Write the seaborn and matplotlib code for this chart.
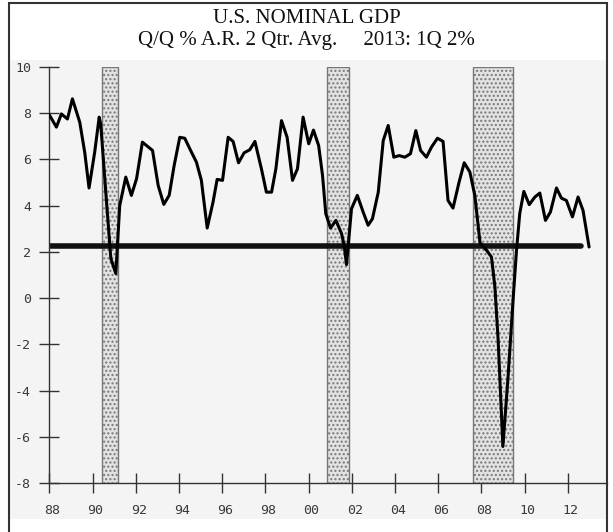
import matplotlib
matplotlib.use("Agg")
import matplotlib.pyplot as plt
import matplotlib.transforms as mtransforms
from matplotlib.patches import Rectangle
import pandas as pd
import seaborn as sns

# Data (2 qtr avg of Q/Q % annual rate)
years = [
    1988.00, 1988.33, 1988.56, 1988.84, 1989.07, 1989.41, 1989.64, 1989.84,
    1990.10, 1990.31, 1990.38, 1990.65, 1990.85, 1991.08, 1991.26, 1991.54,
    1991.80, 1992.04, 1992.31, 1992.78, 1993.04, 1993.30, 1993.55, 1993.78,
    1994.04, 1994.27, 1994.58, 1994.81, 1995.04, 1995.31, 1995.58, 1995.77,
    1996.02, 1996.28, 1996.51, 1996.76, 1997.02, 1997.28, 1997.52, 1997.82,
    1998.05, 1998.29, 1998.49, 1998.75, 1999.01, 1999.26, 1999.49, 1999.75,
    2000.01, 2000.23, 2000.47, 2000.65, 2000.80, 2001.02, 2001.27, 2001.53,
    2001.65, 2001.76, 2001.99, 2002.26, 2002.53, 2002.76, 2002.96, 2003.23,
    2003.46, 2003.69, 2003.95, 2004.20, 2004.46, 2004.72, 2004.97, 2005.19,
    2005.46, 2005.69, 2005.97, 2006.23, 2006.46, 2006.69, 2006.97, 2007.21,
    2007.47, 2007.70, 2007.94, 2008.24, 2008.47, 2008.63, 2008.78, 2008.93,
    2009.00, 2009.24, 2009.47, 2009.63, 2009.78, 2009.97, 2010.22, 2010.48,
    2010.71, 2010.97, 2011.20, 2011.48, 2011.71, 2011.94, 2012.22, 2012.48,
    2012.71, 2012.99,
]
gdp = [
    7.92, 7.39, 7.96, 7.74, 8.61, 7.60, 6.30, 4.76,
    6.30, 7.82, 7.53, 4.15, 1.71, 1.06, 4.00, 5.23,
    4.44, 5.16, 6.74, 6.38, 4.87, 4.05, 4.44, 5.73,
    6.95, 6.91, 6.31, 5.88, 5.09, 3.03, 4.15, 5.13,
    5.09, 6.95, 6.77, 5.85, 6.28, 6.41, 6.77, 5.59,
    4.58, 4.58, 5.59, 7.67, 6.95, 5.09, 5.59, 7.82,
    6.67, 7.26, 6.59, 5.30, 3.65, 3.03, 3.36, 2.79,
    2.28, 1.45, 3.86, 4.44, 3.72, 3.15, 3.43, 4.58,
    6.81, 7.46, 6.09, 6.16, 6.09, 6.24, 7.24, 6.38,
    6.09, 6.52, 6.91, 6.77, 4.22, 3.89, 5.01, 5.85,
    5.45, 4.44, 2.40, 2.07, 1.78, 0.49, -1.81, -4.96,
    -6.41, -3.39, -0.09, 2.07, 3.66, 4.61, 4.04, 4.37,
    4.54, 3.36, 3.72, 4.76, 4.32, 4.22, 3.51, 4.37,
    3.79, 2.21,
]

# Recessions (start, end)
rec_start = [1990.43, 2000.85, 2007.62]
rec_end = [1991.19, 2001.88, 2009.45]

# Long-run average line
avg_years = [1988.0, 2012.6]
avg_level = [2.25, 2.25]

xticks = list(range(1988, 2013, 2))
xlabels = ["88", "90", "92", "94", "96", "98", "00", "02", "04", "06", "08", "10", "12"]
yticks = [10, 8, 6, 4, 2, 0, -2, -4, -6, -8]

sns.set_style("white")
plt.rcParams["font.family"] = ["DejaVu Sans Mono"]

fig = plt.figure(figsize=(6.13, 5.32), dpi=100)
W, H = 613, 532

# light panel behind the chart and outer frame
fig.patches.append(Rectangle((9 / W, 1 - 519 / H), 598 / W, 459 / H,
                             transform=fig.transFigure, facecolor="#f4f4f4",
                             edgecolor="none", zorder=-1))
fig.patches.append(Rectangle((9 / W, -0.02), 598 / W, 1.02 - 3 / H,
                             transform=fig.transFigure, fill=False,
                             edgecolor="#333333", lw=1.5, zorder=5))

ax = fig.add_axes([49.3 / W, 1 - 483.3 / H, (607 - 49.3) / W, (483.3 - 66.7) / H])
ax.set_facecolor("none")
ax.set_zorder(1)

# recession bars
for s, e in zip(rec_start, rec_end):
    ax.axvspan(s, e, facecolor="#e2e2e2", edgecolor="#777777", hatch="....",
               lw=1, zorder=1)

df = pd.DataFrame({"year": years, "gdp": gdp})
sns.lineplot(x=avg_years, y=avg_level, color="#111111", lw=4, ax=ax, zorder=2)
sns.lineplot(data=df, x="year", y="gdp", color="black", lw=2.2, ax=ax, zorder=3)

ax.set_xlim(1988, 1988 + (607 - 49.3) / 21.6)
ax.set_ylim(-8, 10)
ax.set_xticks(xticks, xlabels)
ax.set_yticks(yticks, [str(v) for v in yticks])
ax.set_xlabel("")
ax.set_ylabel("")

ax.tick_params(axis="y", left=True, direction="inout", length=14, width=1,
               color="#333333", labelsize=9.5, labelcolor="#3a3a3a", pad=6)
ax.tick_params(axis="x", bottom=True, direction="inout", length=14, width=1,
               color="#333333", labelsize=9.5, labelcolor="#3a3a3a", pad=8)
shift = mtransforms.ScaledTranslation(3 / 100, 0, fig.dpi_scale_trans)
for lab in ax.get_xticklabels():
    lab.set_transform(lab.get_transform() + shift)

sns.despine(ax=ax)
for side in ["left", "bottom"]:
    ax.spines[side].set_color("#333333")
    ax.spines[side].set_linewidth(1)

# title
fig.text(0.5, 1 - 23.3 / H, "U.S. NOMINAL GDP", ha="center", va="baseline",
         family="Liberation Serif", fontsize=15, color="#111111")
fig.text(0.5, 1 - 44.5 / H, "Q/Q % A.R. 2 Qtr. Avg.     2013: 1Q 2%",
         ha="center", va="baseline", family="Liberation Serif", fontsize=15,
         color="#111111")

fig.savefig("out.png", dpi=100)
